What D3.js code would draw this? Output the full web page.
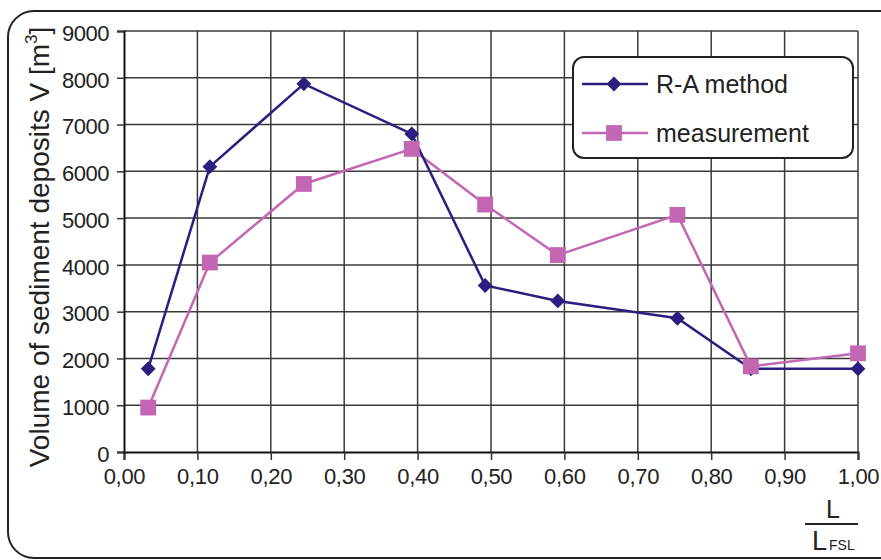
<!DOCTYPE html>
<html>
<head>
<meta charset="utf-8">
<script src="https://cdn.jsdelivr.net/npm/d3@7"></script>
<style>
  body { margin: 0; background: #fff; }
  svg { display: block; font-family: "Liberation Sans", Arial, sans-serif; }
</style>
</head>
<body>
<svg id="chart" width="881" height="560"></svg>
<script>
// data
const xRA   = [0.033, 0.117, 0.245, 0.392, 0.492, 0.591, 0.754, 0.854, 1.0];
const yRA   = [1780, 6100, 7870, 6800, 3560, 3230, 2860, 1780, 1780];
const xMeas = [0.033, 0.117, 0.245, 0.392, 0.492, 0.591, 0.754, 0.854, 1.0];
const yMeas = [950, 4050, 5730, 6480, 5290, 4210, 5070, 1830, 2110];
const xTicks = [0, 0.1, 0.2, 0.3, 0.4, 0.5, 0.6, 0.7, 0.8, 0.9, 1.0];
const yTicks = [0, 1000, 2000, 3000, 4000, 5000, 6000, 7000, 8000, 9000];
const seriesNames = ["R-A method", "measurement"];

const colRA = "#2a1f7e";
const colMeas = "#c366b3";

const svg = d3.select("#chart");

// outer rounded frame
svg.append("rect")
  .attr("x", 8).attr("y", 11)
  .attr("width", 900).attr("height", 547)
  .attr("rx", 26)
  .attr("fill", "none")
  .attr("stroke", "#222")
  .attr("stroke-width", 2);

const mLeft = 124, mRight = 858, mTop = 31, mBottom = 452;

const x = d3.scaleLinear().domain([0, 1]).range([mLeft, mRight]);
const y = d3.scaleLinear().domain([0, 9000]).range([mBottom, mTop]);

// grid
svg.append("g").selectAll("line")
  .data(xTicks.slice(1))
  .join("line")
  .attr("x1", d => x(d)).attr("x2", d => x(d))
  .attr("y1", mTop).attr("y2", mBottom)
  .attr("stroke", "#3a3a3a").attr("stroke-width", 1.5);

svg.append("g").selectAll("line")
  .data(yTicks.slice(1))
  .join("line")
  .attr("x1", mLeft).attr("x2", mRight)
  .attr("y1", d => y(d)).attr("y2", d => y(d))
  .attr("stroke", "#3a3a3a").attr("stroke-width", 1.5);

// axes
const fmt = d => d3.format(".2f")(d).replace(".", ",");

const xAxis = svg.append("g")
  .attr("transform", `translate(0,${mBottom})`)
  .call(d3.axisBottom(x).tickValues(xTicks).tickFormat(fmt).tickSize(8).tickPadding(8));
const yAxis = svg.append("g")
  .attr("transform", `translate(${mLeft},0)`)
  .call(d3.axisLeft(y).tickValues(yTicks).tickFormat(d3.format("d")).tickSize(7).tickPadding(8));

[xAxis, yAxis].forEach(a => {
  a.select(".domain").attr("stroke", "#111").attr("stroke-width", 2);
  a.selectAll(".tick line").attr("stroke", "#333").attr("stroke-width", 1.5);
  a.selectAll("text")
    .attr("font-family", "Liberation Sans, Arial, sans-serif")
    .attr("font-size", 22)
    .attr("fill", "#222");
});
yAxis.selectAll("text").attr("dy", "0.42em").attr("letter-spacing", -0.5);
xAxis.selectAll("text").attr("letter-spacing", -0.3);

// y title
const yt = svg.append("text")
  .attr("transform", `translate(49,247) rotate(-90)`)
  .attr("text-anchor", "middle")
  .attr("font-size", 28)
  .attr("fill", "#222");
yt.append("tspan").text("Volume of sediment deposits V [m");
yt.append("tspan").attr("font-size", 17).attr("dy", -12).text("3");
yt.append("tspan").attr("dy", 12).text("]");

// x title as fraction
svg.append("text")
  .attr("x", 833).attr("y", 518)
  .attr("text-anchor", "middle")
  .attr("font-size", 25).attr("fill", "#222")
  .text("L");
svg.append("line")
  .attr("x1", 805).attr("x2", 858)
  .attr("y1", 524).attr("y2", 524)
  .attr("stroke", "#222").attr("stroke-width", 2);
const den = svg.append("text")
  .attr("x", 812).attr("y", 550)
  .attr("font-size", 27).attr("fill", "#222");
den.append("tspan").text("L");
den.append("tspan").attr("font-size", 14).attr("dx", 2).text("FSL");

// lines
const line = d3.line().x(d => x(d[0])).y(d => y(d[1]));
const raPts = xRA.map((v, i) => [v, yRA[i]]);
const measPts = xMeas.map((v, i) => [v, yMeas[i]]);

svg.append("path").datum(measPts)
  .attr("d", line).attr("fill", "none")
  .attr("stroke", colMeas).attr("stroke-width", 2.5);
svg.append("path").datum(raPts)
  .attr("d", line).attr("fill", "none")
  .attr("stroke", colRA).attr("stroke-width", 2.5);

const diamond = d3.symbol().type(d3.symbolDiamond2).size(140);
const square = d3.symbol().type(d3.symbolSquare).size(250);

svg.append("g").selectAll("path")
  .data(raPts)
  .join("path")
  .attr("d", diamond)
  .attr("transform", d => `translate(${x(d[0])},${y(d[1])})`)
  .attr("fill", colRA);

svg.append("g").selectAll("path")
  .data(measPts)
  .join("path")
  .attr("d", square)
  .attr("transform", d => `translate(${x(d[0])},${y(d[1])})`)
  .attr("fill", colMeas);

// legend
const lg = svg.append("g");
lg.append("rect")
  .attr("x", 573).attr("y", 57)
  .attr("width", 280).attr("height", 101)
  .attr("rx", 11)
  .attr("fill", "#fff")
  .attr("stroke", "#222").attr("stroke-width", 2);

const legendRows = [
  { name: seriesNames[0], color: colRA, sym: diamond, yy: 84 },
  { name: seriesNames[1], color: colMeas, sym: square, yy: 133 }
];
legendRows.forEach(r => {
  lg.append("line")
    .attr("x1", 582).attr("x2", 648)
    .attr("y1", r.yy).attr("y2", r.yy)
    .attr("stroke", r.color).attr("stroke-width", 2.5);
  lg.append("path")
    .attr("d", r.sym)
    .attr("transform", `translate(614,${r.yy})`)
    .attr("fill", r.color);
  lg.append("text")
    .attr("x", 656).attr("y", r.yy + 9)
    .attr("font-size", 25).attr("fill", "#222")
    .text(r.name);
});
</script>
</body>
</html>
